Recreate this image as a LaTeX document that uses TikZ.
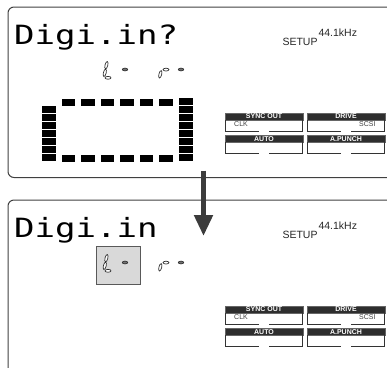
\documentclass[tikz,border=0pt]{standalone}
\usepackage{fontspec}
\setmainfont{Liberation Sans}
\newfontfamily\lcdfont{DejaVu Sans Mono}
\usepackage{graphicx}
\usetikzlibrary{arrows.meta,shapes.geometric}
\definecolor{panelline}{HTML}{404040}
\definecolor{hdrfill}{HTML}{2E2E2E}
\definecolor{segline}{HTML}{303030}
\definecolor{arrowgray}{HTML}{3C3C3C}
\definecolor{selbox}{HTML}{D9D9D9}
\tikzset{
  panel/.style={draw=panelline, line width=1pt},
  lcdtext/.style={inner sep=0pt, anchor=base west, font=\lcdfont\fontsize{26.5}{26.5}\selectfont, text=black},
  setuptext/.style={inner sep=0pt, anchor=base west, font=\fontsize{10.5}{10.5}\selectfont, text=black!85},
  hdrtext/.style={inner sep=0pt, font=\bfseries\fontsize{7}{7}\selectfont, text=white},
  subtext/.style={inner sep=0pt, font=\fontsize{7}{7}\selectfont, text=black!75},
  btnline/.style={draw=black!80, line width=1pt},
  meter/.style={fill=black},
  vseg/.style={ellipse, draw=segline, line width=0.7pt, fill=white, inner sep=0pt,
               minimum width=2.8pt, minimum height=7.6pt, rotate=-14},
  hseg/.style={ellipse, draw=segline, line width=0.7pt, fill=white, inner sep=0pt,
               minimum width=6pt, minimum height=2.8pt},
  dseg/.style={ellipse, draw=segline, line width=0.7pt, fill=black!55, inner sep=0pt,
               minimum width=5.4pt, minimum height=2.8pt},
  bigarrow/.style={draw=arrowgray, line width=5pt, -{Triangle[width=18pt,length=21pt]}},
  pics/ctlbtn/.style={code={
    \fill[hdrfill, draw=black!60, line width=0.4pt] (0,0) rectangle (77.4,7.2);
    \node[hdrtext] (-hdr) at (38.7,3.8) {#1};
    \draw[btnline] (0,7.2) -- (0,18.3) -- (33.7,18.3);
    \draw[btnline] (43.7,18.3) -- (77.4,18.3);
    \draw[btnline, line width=1.4pt] (77.4,18.3) -- (77.4,7.2);
  }}
}
\begin{document}
\begin{tikzpicture}[x=1pt,y=-1pt]
\useasboundingbox (0,0) rectangle (387,367);
\clip (0,0) rectangle (387,367);

% panels
\draw[panel, rounded corners=6pt] (400,7) -- (8,7) -- (8,177.5) -- (400,177.5);
\draw[panel, rounded corners=6pt] (400,200) -- (8,200) -- (8,380);

% top panel only
\node[lcdtext] (title1) at (13.9,44.3) {\scalebox{1.285}[1]{Digi.in?}};
\foreach \x in {61.5,81,100.5,120,139.5,159} {
  \fill[meter] (\x,98.5) rectangle ++(13.5,7);
  \fill[meter] (\x,154.5) rectangle ++(13.5,7);
}
\foreach \i in {0,...,6} { \fill[meter] (42.3,106+8*\i) rectangle ++(13.7,7); }
\foreach \i in {0,...,7} { \fill[meter] (179,98+8*\i) rectangle ++(13.7,7); }

% bottom panel only
\node[lcdtext] (title2) at (13.9,237) {\scalebox{1.285}[1]{Digi.in}};
\fill[selbox, draw=black!65, line width=0.9pt] (96,246.7) rectangle (140,284.3);

% shared content
\foreach \dy in {0,193} {
  \begin{scope}[shift={(0,\dy)}]
    \node[setuptext] (setup\dy) at (282.3,45.7) {SETUP};
    \node[setuptext] (khz\dy) at (318.3,36.9) {44.1kHz};
    \pic (sync\dy) at (225.3,112.7) {ctlbtn={SYNC OUT}};
    \pic (drive\dy) at (307.3,112.7) {ctlbtn={DRIVE}};
    \pic (auto\dy) at (225.3,135) {ctlbtn={AUTO}};
    \pic (punch\dy) at (307.3,135) {ctlbtn={A.PUNCH}};
    \node[subtext, anchor=base west] (clk\dy) at (234,126) {CLK};
    \node[subtext, anchor=base east] (scsi\dy) at (375.7,126) {SCSI};
    % L indicator
    \node[vseg] (la\dy) at (106.4,65.2) {};
    \node[vseg] (lb\dy) at (104.8,72.8) {};
    \node[hseg] (lc\dy) at (108,77.8) {};
    \node[dseg] (ld\dy) at (125,69.5) {};
    % R indicator
    \node[vseg] (ra\dy) at (160.3,74.3) {};
    \node[hseg] (rb\dy) at (166,69.6) {};
    \node[dseg] (rd\dy) at (181,69.5) {};
  \end{scope}
}

% arrow
\coordinate (arrowtop) at (203.5,170.5);
\coordinate (arrowtip) at (203.5,236);
\draw[bigarrow] (arrowtop) -- (arrowtip);
\end{tikzpicture}
\end{document}
